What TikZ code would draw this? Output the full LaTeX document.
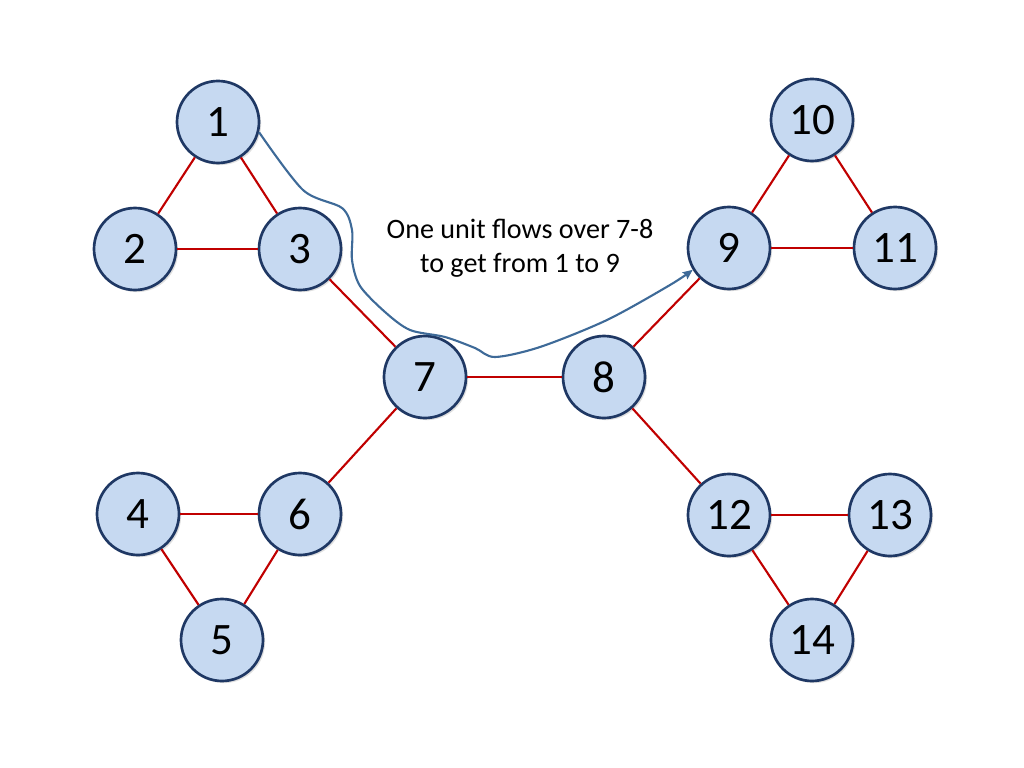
\documentclass[tikz,border=0pt]{standalone}
\usepackage{fontspec}
\setmainfont{Carlito}
\usetikzlibrary{arrows.meta,shadows}
\definecolor{nodefill}{RGB}{198,217,241}
\definecolor{nodeline}{RGB}{31,56,100}
\definecolor{edgered}{RGB}{192,0,0}
\definecolor{flowblue}{RGB}{62,106,152}
\tikzset{
  vertex/.style={circle,draw=nodeline,line width=1.9pt,fill=nodefill,
    minimum size=2.05cm,inner sep=0pt,font=\fontsize{32}{32}\selectfont,
    drop shadow={shadow xshift=1.5pt,shadow yshift=-1.5pt,opacity=0.25,fill=gray}},
  edge/.style={draw=edgered,line width=1.5pt},
  flow/.style={draw=flowblue,line width=1.5pt,-{Stealth[length=7pt,width=6pt,inset=1pt]}}
}
\begin{document}
\begin{tikzpicture}
  \useasboundingbox (0,0) rectangle (25.6,-19.2);
  \draw
    (5.45,-3.05) node[vertex] (1){1}
    (3.375,-6.225) node[vertex] (2){2}
    (7.5,-6.225) node[vertex] (3){3}
    (3.45,-12.85) node[vertex] (4){4}
    (5.55,-16.0) node[vertex] (5){5}
    (7.5,-12.85) node[vertex] (6){6}
    (10.625,-9.425) node[vertex] (7){7}
    (15.1,-9.425) node[vertex] (8){8}
    (18.225,-6.2) node[vertex] (9){9}
    (20.3,-3.0) node[vertex] (10){10}
    (22.375,-6.2) node[vertex] (11){11}
    (18.225,-12.875) node[vertex] (12){12}
    (22.25,-12.875) node[vertex] (13){13}
    (20.3,-16.0) node[vertex] (14){14};
  \begin{scope}[edge]
    \draw (1) to (2);
    \draw (1) to (3);
    \draw (2) to (3);
    \draw (3) to (7);
    \draw (7) to (6);
    \draw (6) to (4);
    \draw (6) to (5);
    \draw (4) to (5);
    \draw (7) to (8);
    \draw (8) to (9);
    \draw (8) to (12);
    \draw (9) to (10);
    \draw (9) to (11);
    \draw (10) to (11);
    \draw (12) to (13);
    \draw (12) to (14);
    \draw (13) to (14);
  \end{scope}
  \node[font=\fontsize{20}{24}\selectfont,align=center] (note) at (13.0,-6.2)
    {One unit flows over 7-8\\to get from 1 to 9};
  \draw[flow] plot[smooth,tension=0.5] coordinates {(1.-14) (7.575,-4.75)
    (8.55,-5.2) (8.8,-5.75) (8.8,-6.5) (9.0,-7.15) (9.625,-7.8)
    (10.25,-8.25) (11.125,-8.425) (11.875,-8.7) (12.375,-8.925) (13.5,-8.675)
    (15.175,-8.0) (16.75,-7.125) (9.211)};
\end{tikzpicture}
\end{document}
